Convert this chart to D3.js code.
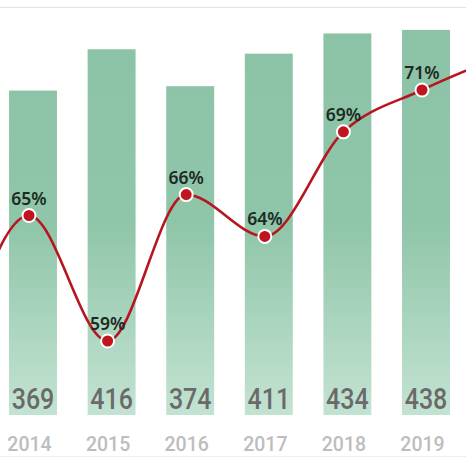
<!DOCTYPE html>
<html>
<head>
<meta charset="utf-8">
<script src="https://cdn.jsdelivr.net/npm/d3@7"></script>
<style>
  html, body { margin: 0; padding: 0; background: #fff; }
  svg { display: block; }
</style>
</head>
<body>
<svg id="chart" width="466" height="466"></svg>
<script>
const years = ["2013", "2014", "2015", "2016", "2017", "2018", "2019", "2020"];
const barYears = ["2014", "2015", "2016", "2017", "2018", "2019"];
const barValues = [369, 416, 374, 411, 434, 438];
const lineYears = ["2013", "2014", "2015", "2016", "2017", "2018", "2019", "2020"];
const rateValues = [56.5, 65, 59, 66, 64, 69, 71, 72.6];
const labelYears = ["2014", "2015", "2016", "2017", "2018", "2019"];

const W = 466, H = 466;
const svg = d3.select("#chart");

const x = d3.scaleBand().domain(years).range([-84.9, 543.9]).paddingInner(0.39).paddingOuter(0.195);
const xPt = d3.scalePoint().domain(years).range([-49.6, 500.6]);
const yBar = d3.scaleLinear().domain([0, 472]).range([415, 0]);
const yRate = d3.scaleLinear().domain([59, 71]).range([341, 90]);

const defs = svg.append("defs");
const grad = defs.append("linearGradient").attr("id", "barGrad")
  .attr("gradientUnits", "userSpaceOnUse").attr("x1", 0).attr("x2", 0).attr("y1", 30).attr("y2", 415);
grad.append("stop").attr("offset", "0%").attr("stop-color", "#8cc3a6");
grad.append("stop").attr("offset", "50%").attr("stop-color", "#8fc5a8");
grad.append("stop").attr("offset", "100%").attr("stop-color", "#c3e3d2");

// frame lines
svg.append("line").attr("x1", 0).attr("x2", W).attr("y1", 7.5).attr("y2", 7.5).attr("stroke", "#e3e3e3").attr("stroke-width", 1);
svg.append("line").attr("x1", 0).attr("x2", W).attr("y1", 456.5).attr("y2", 456.5).attr("stroke", "#eeeeee").attr("stroke-width", 1);

// bars
svg.append("g").selectAll("rect").data(barValues).join("rect")
  .attr("x", (d, i) => x(barYears[i]))
  .attr("width", x.bandwidth())
  .attr("y", d => yBar(d))
  .attr("height", d => yBar(0) - yBar(d))
  .attr("fill", "url(#barGrad)");

// bar values
svg.append("g").selectAll("text").data(barValues).join("text")
  .attr("transform", (d, i) => `translate(${x(barYears[i]) + x.bandwidth() / 2},409) scale(1,1.2)`)
  .attr("text-anchor", "middle")
  .attr("font-family", "Roboto, sans-serif")
  .attr("font-size", 25)
  .attr("font-weight", 500)
  .attr("fill", "#6a6a6a")
  .text(d => d);

// x axis labels
const xAxis = d3.axisBottom(xPt).tickValues(barYears).tickSize(0).tickPadding(0);
const ax = svg.append("g").attr("transform", "translate(0,451)").call(xAxis);
ax.select(".domain").remove();
ax.selectAll("text").attr("dy", 0).attr("font-family", "Roboto, sans-serif").attr("font-size", 19.5)
  .attr("font-weight", 500).attr("fill", "#bdbdbd");

// line
const line = d3.line()
  .x((d, i) => xPt(lineYears[i]))
  .y(d => yRate(d))
  .curve(d3.curveMonotoneX);
svg.append("path").datum(rateValues).attr("d", line)
  .attr("fill", "none").attr("stroke", "#b5161f").attr("stroke-width", 2.6);

const pts = rateValues.map((v, i) => ({ year: lineYears[i], v })).filter(p => labelYears.includes(p.year));
svg.append("g").selectAll("circle").data(pts).join("circle")
  .attr("cx", d => xPt(d.year))
  .attr("cy", d => yRate(d.v))
  .attr("r", 6.5)
  .attr("fill", "#c0141e")
  .attr("stroke", "#fff").attr("stroke-width", 2);

svg.append("g").selectAll("text").data(pts).join("text")
  .attr("x", d => xPt(d.year))
  .attr("y", d => yRate(d.v) - 11)
  .attr("text-anchor", "middle")
  .attr("font-family", "'Noto Sans', sans-serif")
  .attr("font-size", 17.5)
  .attr("font-weight", 600)
  .attr("fill", "#1c2a23")
  .text(d => Math.round(d.v) + "%");
</script>
</body>
</html>
